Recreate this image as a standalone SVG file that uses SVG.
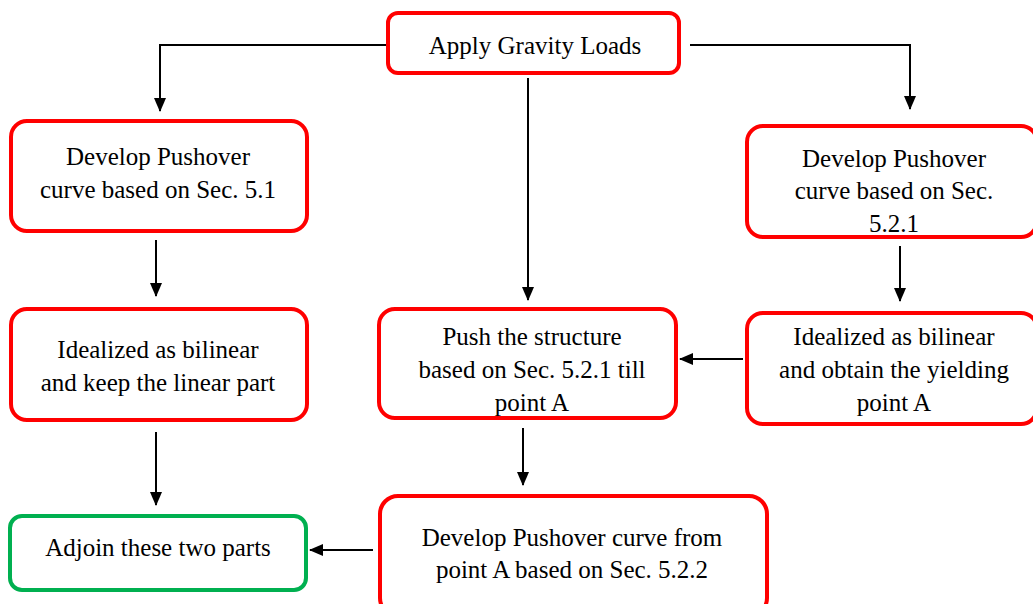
<svg xmlns="http://www.w3.org/2000/svg" width="1033" height="604" viewBox="0 0 1033 604">
<style>
.box{fill:#fff;stroke:#ff0000;stroke-width:4}
.g{stroke:#00b050}
.t text{font-size:25px;fill:#000;text-anchor:middle}
.c{fill:none;stroke:#000;stroke-width:2}
</style>
<defs>
<marker id="ah" markerWidth="14" markerHeight="12" refX="13" refY="6" orient="auto" markerUnits="userSpaceOnUse" viewBox="0 0 14 12">
<path d="M0,0 L14,6 L0,12 z" fill="#000"/>
</marker>
</defs>
<rect width="1033" height="604" fill="#fff"/>
<g id="connectors">
<path class="c" d="M388,45 H160 V111" marker-end="url(#ah)"/>
<path class="c" d="M690,45 H910 V109" marker-end="url(#ah)"/>
<path class="c" d="M528,78 V300" marker-end="url(#ah)"/>
<path class="c" d="M156,240 V296" marker-end="url(#ah)"/>
<path class="c" d="M900,246 V301" marker-end="url(#ah)"/>
<path class="c" d="M743,359 H680" marker-end="url(#ah)"/>
<path class="c" d="M156,432 V505" marker-end="url(#ah)"/>
<path class="c" d="M523,428 V485" marker-end="url(#ah)"/>
<path class="c" d="M373,550 H310" marker-end="url(#ah)"/>
</g>
<g class="t" font-family="Liberation Serif, Times New Roman, serif">
<g id="n1"><rect class="box" x="388" y="13" width="291" height="60" rx="10"/><text x="535" y="54">Apply Gravity Loads</text></g>
<g id="n2"><rect class="box" x="11" y="121" width="296" height="110" rx="16"/><text x="158" y="165">Develop Pushover</text><text x="158" y="198">curve based on Sec. 5.1</text></g>
<g id="n3"><rect class="box" x="747" y="126" width="290" height="111" rx="16"/><text x="894" y="167">Develop Pushover</text><text x="894" y="199">curve based on Sec.</text><text x="894" y="232">5.2.1</text></g>
<g id="n4"><rect class="box" x="11" y="309" width="296" height="111" rx="16"/><text x="158" y="358">Idealized as bilinear</text><text x="158" y="391">and keep the linear part</text></g>
<g id="n5"><rect class="box" x="379" y="309" width="297" height="109" rx="16"/><text x="532" y="345">Push the structure</text><text x="532" y="378">based on Sec. 5.2.1 till</text><text x="532" y="411">point A</text></g>
<g id="n6"><rect class="box" x="747" y="313" width="290" height="111" rx="16"/><text x="894" y="345">Idealized as bilinear</text><text x="894" y="378">and obtain the yielding</text><text x="894" y="411">point A</text></g>
<g id="n7"><rect class="box g" x="10" y="516" width="296" height="74" rx="12"/><text x="158" y="556">Adjoin these two parts</text></g>
<g id="n8"><rect class="box" x="380" y="496" width="387" height="120" rx="18"/><text x="572" y="546">Develop Pushover curve from</text><text x="572" y="578">point A based on Sec. 5.2.2</text></g>
</g>
</svg>
